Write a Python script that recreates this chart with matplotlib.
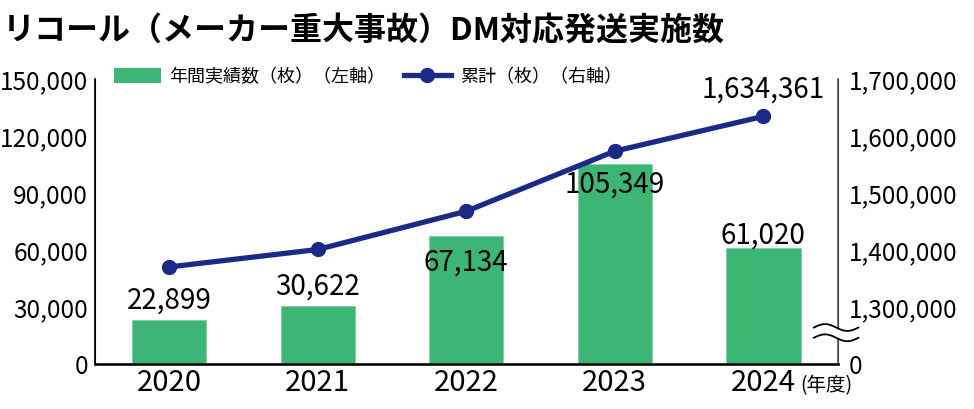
import numpy as np
import matplotlib.pyplot as plt
from matplotlib.patches import Polygon
from matplotlib.lines import Line2D
from matplotlib.patches import Patch

plt.rcParams['font.family'] = ['Noto Sans CJK JP', 'DejaVu Sans']

years = ['2020', '2021', '2022', '2023', '2024']
annual = [22899, 30622, 67134, 105349, 61020]
cumulative = [1370236, 1400858, 1467992, 1573341, 1634361]
left_ticks = [0, 30000, 60000, 90000, 120000, 150000]
right_ticks = [1200000, 1300000, 1400000, 1500000, 1600000, 1700000]

bar_color = '#3db574'
line_color = '#1b2a87'

fig = plt.figure(figsize=(9.74, 4.09), dpi=100)
ax = fig.add_axes([0.0975, 0.11, 0.7625, 0.697])
x = np.arange(len(years))

ax.bar(x, annual, width=0.5, color=bar_color, edgecolor='#7fd0a0', linewidth=0.6, zorder=2)
ax.set_xlim(-0.5, 4.5)
ax.set_ylim(0, 150000)
ax.set_yticks(left_ticks)
ax.set_yticklabels([f'{v:,}' for v in left_ticks])
ax.set_xticks(x)
ax.set_xticklabels(years)
ax.tick_params(axis='y', length=0, labelsize=17.5, pad=5)
ax.tick_params(axis='x', length=0, labelsize=21, pad=3)
ax.spines['top'].set_visible(False)
ax.spines['left'].set_linewidth(1.2)
ax.spines['bottom'].set_linewidth(2)
ax.spines['bottom'].set_color('#222222')

ax2 = ax.twinx()
ax2.plot(x, cumulative, color=line_color, lw=3.8, marker='o', ms=10, zorder=5)
ax2.set_ylim(1200000, 1700000)
ax2.set_yticks(right_ticks)
ax2.set_yticklabels(['0'] + [f'{v:,}' for v in right_ticks[1:]])
ax2.tick_params(length=0, labelsize=17.5, pad=8)
ax2.spines['top'].set_visible(False)
ax2.spines['right'].set_color('#555555')
ax2.spines['right'].set_linewidth(1.2)

# bar labels (some sit inside the bar to avoid the line)
label_off = [10500, 10000, -13700, -11000, 6500]
for xi, v, off in zip(x, annual, label_off):
    ax.text(xi, v + off, f'{v:,}', ha='center', va='center', fontsize=20, zorder=6)

ax2.text(x[-1], cumulative[-1] + 47000, f'{cumulative[-1]:,}', ha='center', va='center', fontsize=20)

# axis break mark on the right axis
t = np.linspace(0, 1, 60)
xs = 0.968 + 0.06 * t
w = 0.012 * np.sin(2 * np.pi * t)
y0 = 0.11
top = y0 + 0.018 + w
bot = y0 - 0.018 + w
poly = np.column_stack([np.r_[xs, xs[::-1]], np.r_[top, bot[::-1]]])
ax2.add_patch(Polygon(poly, closed=True, transform=ax.transAxes, facecolor='white',
                      edgecolor='none', clip_on=False, zorder=10))
ax2.plot(xs, top, transform=ax.transAxes, color='black', lw=1.3, clip_on=False, zorder=11)
ax2.plot(xs, bot, transform=ax.transAxes, color='black', lw=1.3, clip_on=False, zorder=11)

fig.text(0.822, 0.058, '(年度)', fontsize=14, ha='left', va='center')

fig.text(0.003, 0.922, 'リコール（メーカー重大事故）DM対応発送実施数', fontsize=23,
         fontweight='bold', ha='left', va='center')

handles = [Patch(facecolor=bar_color),
           Line2D([], [], color=line_color, lw=3.8, marker='o', ms=10)]
fig.legend(handles, ['年間実績数（枚）（左軸）', '累計（枚）（右軸）'], loc='center left',
           bbox_to_anchor=(0.1, 0.812), ncol=2, frameon=False, fontsize=13,
           handlelength=2.6, handleheight=0.9, columnspacing=1.0, handletextpad=0.5)

fig.savefig('out.png', dpi=100)
